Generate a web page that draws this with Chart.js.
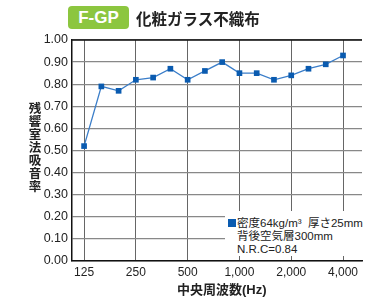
<!DOCTYPE html>
<html>
<head>
<meta charset="utf-8">
<script src="https://cdn.jsdelivr.net/npm/chart.js@4"></script>
<style>
  body { margin: 0; background: #fff; }
  #wrap { position: relative; width: 366px; height: 303px; overflow: hidden; }
  #chart { position: absolute; left: 0; top: 0; }
  .jp { font-family: "Liberation Sans", "Noto Sans CJK JP", sans-serif; color: #222; position: absolute; white-space: nowrap; }
  #badge { position: absolute; left: 68px; top: 6px; width: 61px; height: 23px; background: #8cc63f;
           border-radius: 4px; color: #fff; font: bold 17px "Liberation Sans", Arial, sans-serif;
           text-align: center; line-height: 23px; }
  #title { left: 136px; top: 6px; font-size: 15.5px; font-weight: bold; line-height: 24px; font-family: "Noto Sans CJK JP", sans-serif; }
  #ytitle { left: 27px; top: 101px; width: 16px; font-size: 12.5px; font-weight: bold; line-height: 13px; text-align: center; white-space: normal; font-family: "Noto Sans CJK JP", sans-serif; }
  #xtitle { left: 177px; top: 281px; font-size: 13px; font-weight: bold; line-height: 18px; }
  #legend { left: 225px; top: 211px; width: 141px; height: 45px; background: #fff; font-size: 11.5px; line-height: 12.8px; padding-top: 6px; box-sizing: border-box; white-space: pre; }
  #legend .sq { display: inline-block; width: 8px; height: 8px; background: #0a5bb0; margin: 0 1px 0 3px; }
</style>
</head>
<body>
<div id="wrap">
  <canvas id="chart" width="366" height="303"></canvas>
  <div id="badge">F-GP</div>
  <div class="jp" id="title">化粧ガラス不織布</div>
  <div class="jp" id="ytitle">残<br>響<br>室<br>法<br>吸<br>音<br>率</div>
  <div class="jp" id="xtitle">中央周波数(Hz)</div>
  <div class="jp" id="legend"><div><span class="sq"></span>密度64kg/m³  厚さ25mm</div><div style="padding-left:12px">背後空気層300mm</div><div style="padding-left:12px">N.R.C=0.84</div></div>
</div>
<script>
// 1/3 octave centre frequencies
const freqs = [125, 160, 200, 250, 315, 400, 500, 630, 800, 1000, 1250, 1600, 2000, 2500, 3150, 4000];
const absorption = [0.52, 0.79, 0.77, 0.82, 0.83, 0.87, 0.82, 0.86, 0.90, 0.85, 0.85, 0.82, 0.84, 0.87, 0.89, 0.93];
const xTickLabels = ['125', '250', '500', '1,000', '2,000', '4,000'];
const xTickFreqs = [125, 250, 500, 1000, 2000, 4000];

const points = freqs.map((f, i) => ({ x: i, y: absorption[i] }));
const xTickIdx = xTickFreqs.map(f => freqs.indexOf(f));

// black frame on top
const frame = {
  afterDraw: function(chart) {
    const ctx = chart.ctx;
    const a = chart.chartArea;
    ctx.save();
    ctx.strokeStyle = '#111';
    ctx.lineWidth = 1.5;
    ctx.beginPath();
    ctx.moveTo(a.left, a.top);
    ctx.lineTo(a.right, a.top);
    ctx.stroke();
    ctx.restore();
  }
};

new Chart(document.getElementById('chart').getContext('2d'), {
  type: 'line',
  data: {
    datasets: [{
      data: points,
      borderColor: '#3b7ec9',
      borderWidth: 1.3,
      backgroundColor: '#0a5bb0',
      pointStyle: 'rect',
      pointRadius: 4,
      pointBorderWidth: 0,
      tension: 0
    }]
  },
  plugins: [frame],
  options: {
    responsive: false,
    animation: false,
    events: [],
    layout: { padding: { top: 40, left: 0, right: 0, bottom: 0 } },
    plugins: { legend: { display: false }, tooltip: { enabled: false } },
    scales: {
      x: {
        type: 'linear',
        min: -0.7,
        max: 16.1,
        afterBuildTicks: (s) => { s.ticks = xTickIdx.map(v => ({ value: v })); },
        afterFit: (s) => { s.height = 42; },
        grid: { color: '#666', lineWidth: 1, drawTicks: false },
        border: { color: '#111', width: 1.5 },
        ticks: {
          color: '#222',
          padding: 4,
          maxRotation: 0,
          autoSkip: false,
          font: { family: 'Liberation Sans', size: 12 },
          callback: (v) => xTickLabels[xTickIdx.indexOf(v)]
        }
      },
      y: {
        min: 0,
        max: 1,
        afterFit: (s) => { s.width = 72; },
        grid: { color: '#888', lineWidth: 1.2, drawTicks: false },
        border: { color: '#111', width: 1.5 },
        ticks: {
          stepSize: 0.1,
          color: '#222',
          padding: 4,
          font: { family: 'Liberation Sans', size: 12.5 },
          callback: (v) => v.toFixed(2)
        }
      }
    }
  }
});
</script>
</body>
</html>
